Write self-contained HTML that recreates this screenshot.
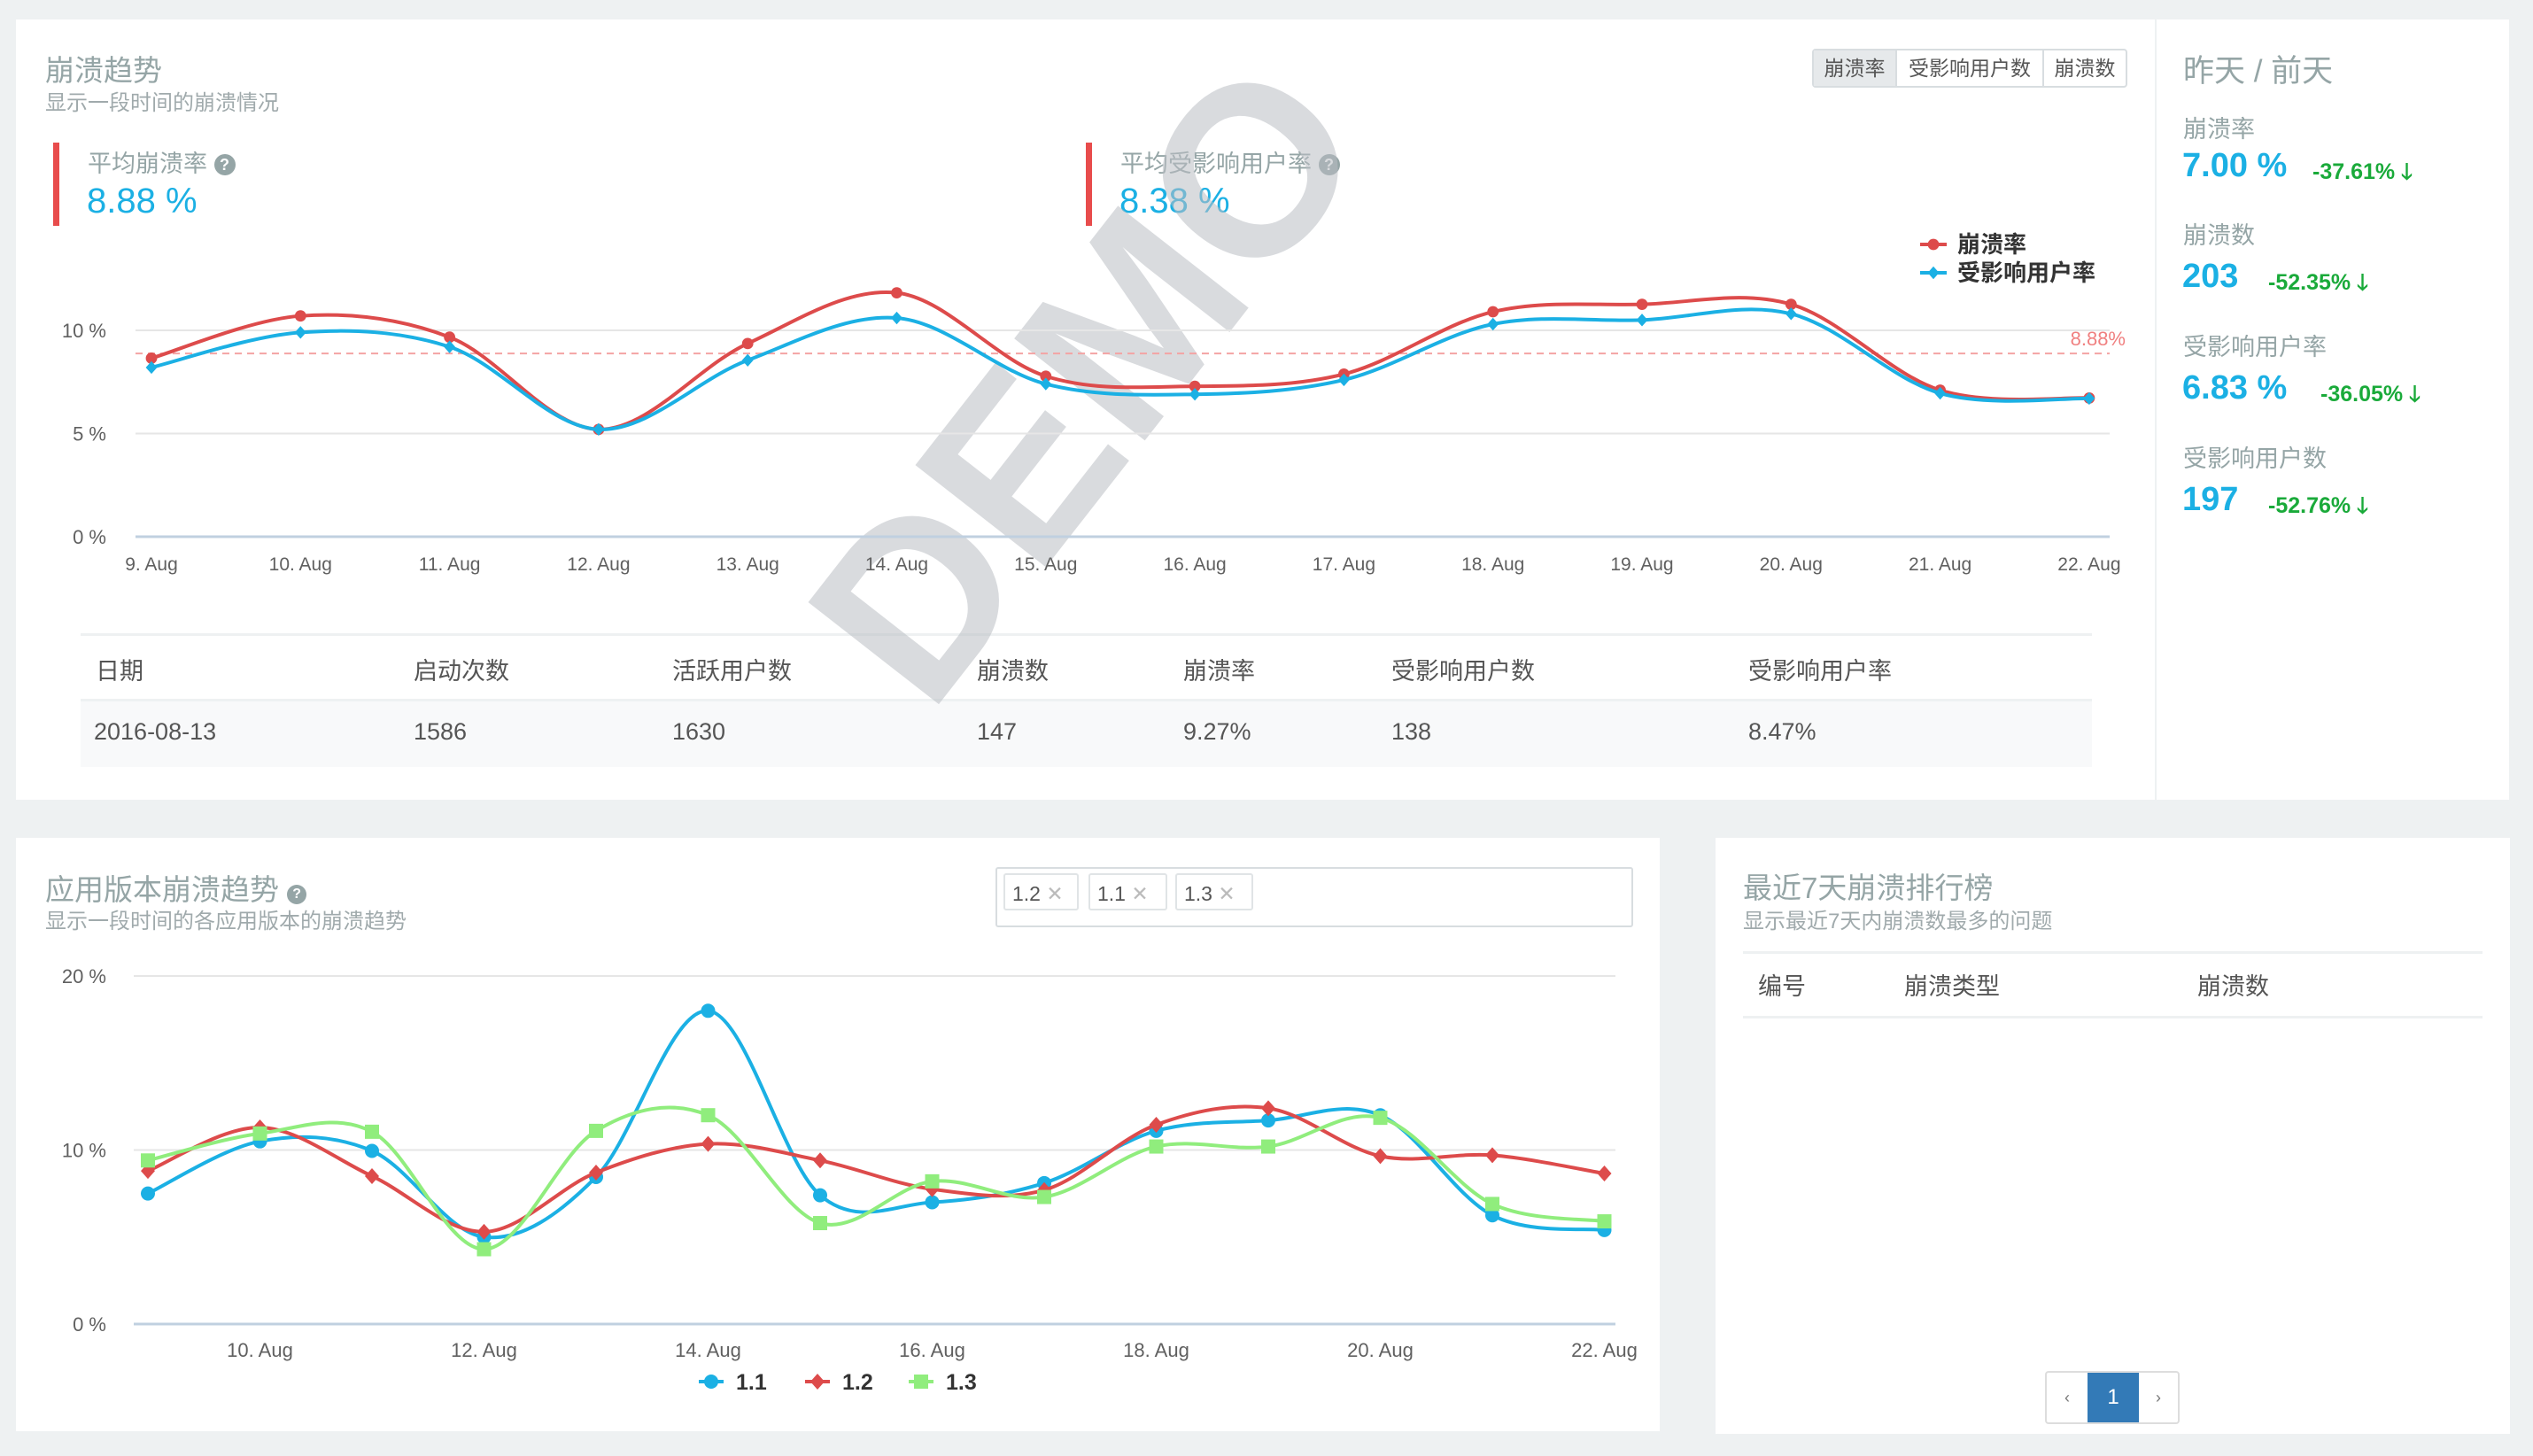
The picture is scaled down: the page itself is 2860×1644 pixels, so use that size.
<!DOCTYPE html>
<html><head><meta charset="utf-8">
<style>
html,body{margin:0;padding:0}
body{width:2860px;height:1644px;background:#eef1f2;position:relative;overflow:hidden;font-family:"Liberation Sans","Noto Sans CJK SC",sans-serif;}
.a{position:absolute;white-space:nowrap}
.panel{position:absolute;background:#fff}
.dg{color:#555}
.blue{color:#1bb0e4}
.green{color:#1aaa3a;font-weight:bold}
</style></head><body>
<div class="panel" style="left:18px;top:22px;width:2815px;height:881px"></div>
<div class="a" style="left:2433px;top:22px;width:2px;height:881px;background:#eef1f2"></div>
<div class="panel" style="left:18px;top:946px;width:1856px;height:670px"></div>
<div class="panel" style="left:1937px;top:946px;width:897px;height:673px"></div>

<div class="a" style="left:51px;top:53px;font-size:33px;color:#95a5a6">崩溃趋势</div>
<div class="a" style="left:51px;top:96px;font-size:24px;color:#a0aaac">显示一段时间的崩溃情况</div>
<div class="a" style="left:60px;top:161px;width:7px;height:94px;background:#e84c4c"></div>
<div class="a" style="left:99px;top:163px;font-size:27px;color:#95a5a6">平均崩溃率 <span style="display:inline-block;width:24px;height:24px;border-radius:12px;background:#95a5a6;color:#fff;font-size:18px;text-align:center;line-height:24px;font-weight:bold;vertical-align:2px">?</span></div>
<div class="a blue" style="left:98px;top:205px;font-size:40px">8.88 %</div>
<div class="a" style="left:1226px;top:161px;width:7px;height:94px;background:#e84c4c"></div>
<div class="a" style="left:1265px;top:163px;font-size:27px;color:#95a5a6">平均受影响用户率 <span style="display:inline-block;width:24px;height:24px;border-radius:12px;background:#95a5a6;color:#fff;font-size:18px;text-align:center;line-height:24px;font-weight:bold;vertical-align:2px">?</span></div>
<div class="a blue" style="left:1264px;top:205px;font-size:40px">8.38 %</div>

<div class="a" style="left:2046px;top:55px;height:40px;border:2px solid #d8dde0;border-radius:4px;display:flex;font-size:23px;color:#555;background:#fff">
<div style="width:92px;line-height:40px;text-align:center;background:#e6e9eb;border-right:2px solid #d8dde0">崩溃率</div>
<div style="width:164px;line-height:40px;text-align:center;border-right:2px solid #d8dde0">受影响用户数</div>
<div style="width:92px;line-height:40px;text-align:center">崩溃数</div>
</div>

<div class="a" style="left:91px;top:715px;width:2271px;height:3px;background:#eef1f2"></div>
<div class="a" style="left:91px;top:789px;width:2271px;height:74px;background:#f8f9fa;border-top:3px solid #eef1f2"></div>
<div>
<div class="a dg" style="left:108px;top:736px;font-size:27px">日期</div>
<div class="a dg" style="left:467px;top:736px;font-size:27px">启动次数</div>
<div class="a dg" style="left:759px;top:736px;font-size:27px">活跃用户数</div>
<div class="a dg" style="left:1103px;top:736px;font-size:27px">崩溃数</div>
<div class="a dg" style="left:1336px;top:736px;font-size:27px">崩溃率</div>
<div class="a dg" style="left:1571px;top:736px;font-size:27px">受影响用户数</div>
<div class="a dg" style="left:1974px;top:736px;font-size:27px">受影响用户率</div>
</div>
<div>
<div class="a dg" style="left:106px;top:811px;font-size:27px">2016-08-13</div>
<div class="a dg" style="left:467px;top:811px;font-size:27px">1586</div>
<div class="a dg" style="left:759px;top:811px;font-size:27px">1630</div>
<div class="a dg" style="left:1103px;top:811px;font-size:27px">147</div>
<div class="a dg" style="left:1336px;top:811px;font-size:27px">9.27%</div>
<div class="a dg" style="left:1571px;top:811px;font-size:27px">138</div>
<div class="a dg" style="left:1974px;top:811px;font-size:27px">8.47%</div>
</div>

<div class="a" style="left:2465px;top:52px;font-size:35px;color:#95a5a6">昨天 / 前天</div>
<div class="a" style="left:2465px;top:124px;font-size:27px;color:#95a5a6">崩溃率</div>
<div class="a blue" style="left:2464px;top:166px;font-size:38px;font-weight:bold">7.00 %</div>
<div class="a green" style="left:2611px;top:175px;font-size:25px">-37.61% 🡓</div>
<div class="a" style="left:2465px;top:244px;font-size:27px;color:#95a5a6">崩溃数</div>
<div class="a blue" style="left:2464px;top:291px;font-size:38px;font-weight:bold">203</div>
<div class="a green" style="left:2561px;top:300px;font-size:25px">-52.35% 🡓</div>
<div class="a" style="left:2465px;top:370px;font-size:27px;color:#95a5a6">受影响用户率</div>
<div class="a blue" style="left:2464px;top:417px;font-size:38px;font-weight:bold">6.83 %</div>
<div class="a green" style="left:2620px;top:426px;font-size:25px">-36.05% 🡓</div>
<div class="a" style="left:2465px;top:496px;font-size:27px;color:#95a5a6">受影响用户数</div>
<div class="a blue" style="left:2464px;top:543px;font-size:38px;font-weight:bold">197</div>
<div class="a green" style="left:2561px;top:552px;font-size:25px">-52.76% 🡓</div>

<div class="a" style="left:51px;top:978px;font-size:33px;color:#95a5a6">应用版本崩溃趋势 <span style="display:inline-block;width:22px;height:22px;border-radius:11px;background:#95a5a6;color:#fff;font-size:16px;text-align:center;line-height:22px;font-weight:bold;vertical-align:2px">?</span></div>
<div class="a" style="left:51px;top:1020px;font-size:24px;color:#a0aaac">显示一段时间的各应用版本的崩溃趋势</div>
<div class="a" style="left:1124px;top:979px;width:716px;height:64px;border:2px solid #d8dde0;border-radius:3px;background:#fff"></div>
<div class="a" style="left:1133px;top:986px;width:85px;height:42px;border:2px solid #e0e4e6;border-radius:3px;font-size:23px;line-height:42px;color:#555;padding-left:8px;box-sizing:border-box">1.2 <span style="color:#bbb">✕</span></div>
<div class="a" style="left:1229px;top:986px;width:89px;height:42px;border:2px solid #e0e4e6;border-radius:3px;font-size:23px;line-height:42px;color:#555;padding-left:8px;box-sizing:border-box">1.1 <span style="color:#bbb">✕</span></div>
<div class="a" style="left:1327px;top:986px;width:88px;height:42px;border:2px solid #e0e4e6;border-radius:3px;font-size:23px;line-height:42px;color:#555;padding-left:8px;box-sizing:border-box">1.3 <span style="color:#bbb">✕</span></div>

<div class="a" style="left:1968px;top:976px;font-size:33px;color:#95a5a6">最近7天崩溃排行榜</div>
<div class="a" style="left:1968px;top:1020px;font-size:24px;color:#a0aaac">显示最近7天内崩溃数最多的问题</div>
<div class="a" style="left:1968px;top:1074px;width:835px;height:3px;background:#eef1f2"></div>
<div class="a dg" style="left:1985px;top:1092px;font-size:27px">编号</div>
<div class="a dg" style="left:2150px;top:1092px;font-size:27px">崩溃类型</div>
<div class="a dg" style="left:2481px;top:1092px;font-size:27px">崩溃数</div>
<div class="a" style="left:1968px;top:1147px;width:835px;height:3px;background:#eef1f2"></div>
<div class="a" style="left:2309px;top:1548px;width:148px;height:56px;border:2px solid #ddd;border-radius:4px;display:flex;font-size:18px;color:#777">
<div style="width:46px;text-align:center;line-height:56px">‹</div>
<div style="width:58px;text-align:center;line-height:56px;background:#337ab7;color:#fff;font-size:24px">1</div>
<div style="width:44px;text-align:center;line-height:56px">›</div>
</div>

<svg id="chart" width="2860" height="1644" style="position:absolute;left:0;top:0" xmlns="http://www.w3.org/2000/svg"></svg>

<script>
const topDays = ["9. Aug","10. Aug","11. Aug","12. Aug","13. Aug","14. Aug","15. Aug","16. Aug","17. Aug","18. Aug","19. Aug","20. Aug","21. Aug","22. Aug"];
const topYTicks = [0,5,10];
const crashRate = [8.65,10.7,9.67,5.2,9.36,11.82,7.78,7.29,7.88,10.9,11.26,11.26,7.1,6.72];
const affectedRate = [8.2,9.9,9.2,5.2,8.55,10.6,7.4,6.9,7.6,10.3,10.5,10.8,6.95,6.7];
const avgCrash = 8.88;
const botTickDays = [1,3,5,7,9,11,13];
const botTickLabels = ["10. Aug","12. Aug","14. Aug","16. Aug","18. Aug","20. Aug","22. Aug"];
const botYTicks = [0,10,20];
const v11 = [7.5,10.5,9.95,5.0,8.45,18.0,7.4,7.0,8.1,11.1,11.7,12.0,6.25,5.4];
const v12 = [8.8,11.3,8.5,5.3,8.7,10.35,9.4,7.75,7.7,11.45,12.4,9.65,9.7,8.65];
const v13 = [9.4,10.95,11.05,4.3,11.1,12.0,5.8,8.2,7.3,10.2,10.2,11.85,6.9,5.9];

const svg=document.getElementById('chart');
const NS='http://www.w3.org/2000/svg';
function mk(tag,attrs,parent){const e=document.createElementNS(NS,tag);for(const k in attrs)e.setAttribute(k,attrs[k]);(parent||svg).appendChild(e);return e;}
function spline(pts){let d='M'+pts[0][0]+','+pts[0][1];for(let i=0;i<pts.length-1;i++){const p0=pts[Math.max(i-1,0)],p1=pts[i],p2=pts[i+1],p3=pts[Math.min(i+2,pts.length-1)];const t=1/6;d+=' C'+(p1[0]+(p2[0]-p0[0])*t)+','+(p1[1]+(p2[1]-p0[1])*t)+' '+(p2[0]-(p3[0]-p1[0])*t)+','+(p2[1]-(p3[1]-p1[1])*t)+' '+p2[0]+','+p2[1];}return d;}
function marker(g,type,x,y,c,s){s=s||1;let m;
 if(type==='circle')m=mk('circle',{cx:x,cy:y,r:8*s,fill:c},g);
 else if(type==='diamond')m=mk('path',{d:`M${x},${y-9*s}L${x+8*s},${y}L${x},${y+9*s}L${x-8*s},${y}Z`,fill:c},g);
 else m=mk('rect',{x:x-8,y:y-8,width:16,height:16,fill:c},g);
 
 }

const wm=mk('text',{x:0,y:0,'text-anchor':'middle','font-size':272,'font-weight':'bold',fill:'#b9bec3','fill-opacity':0.55,transform:'translate(1300,488) rotate(-52)','font-family':'Liberation Sans, sans-serif'});
wm.textContent='DEMO';



const tx=i=>171+i*168.3, ty=v=>606-v*23.3;
const topG=mk('g',{});


topYTicks.forEach(v=>{
 const l=mk('line',{x1:153,x2:2382,y1:ty(v),y2:ty(v),stroke:v===0?'#c0d0e0':'#e6e6e6','stroke-width':v===0?3:2},topG);
 
 
 const t=mk('text',{x:120,y:ty(v)+8,'text-anchor':'end','font-size':22,fill:'#606060'},topG);t.textContent=v+' %';
 
 
});
topDays.forEach((d,i)=>{const t=mk('text',{x:tx(i),y:644,'text-anchor':'middle','font-size':21,fill:'#606060'},topG);t.textContent=d;
 
 });
const avgL=mk('line',{x1:153,x2:2382,y1:ty(avgCrash),y2:ty(avgCrash),stroke:'#f4a4a4','stroke-width':2,'stroke-dasharray':'8,6'},topG);


const avgT=mk('text',{x:2400,y:ty(avgCrash)-9,'text-anchor':'end','font-size':22,fill:'#f08080'},topG);avgT.textContent=avgCrash+'%';


[[crashRate,'#dd4b4b','circle','crash-rate-series'],[affectedRate,'#1bb0e4','diamond','affected-rate-series']].forEach(([arr,c,m,n])=>{
 const g=mk('g',{},topG);
 
 
 const pts=arr.map((v,i)=>[tx(i),ty(v)]);
 mk('path',{d:spline(pts),fill:'none',stroke:c,'stroke-width':4},g);
 pts.forEach(p=>marker(g,m,p[0],p[1],c,0.8));
});
[['崩溃率','#dd4b4b','circle',276],['受影响用户率','#1bb0e4','diamond',308]].forEach(([n,c,m,y])=>{
 const g=mk('g',{},topG);
 
 
 mk('line',{x1:2168,x2:2198,y1:y,y2:y,stroke:c,'stroke-width':4},g);marker(g,m,2183,y,c,0.8);
 const t=mk('text',{x:2210,y:y+9,'font-size':26,'font-weight':'bold',fill:'#333'},g);t.textContent=n;
});

const bx=i=>167+i*126.5, by=v=>1495-v*19.65;
const botG=mk('g',{});


botYTicks.forEach(v=>{
 const l=mk('line',{x1:151,x2:1824,y1:by(v),y2:by(v),stroke:v===0?'#c0d0e0':'#e6e6e6','stroke-width':v===0?3:2},botG);
 
 
 const t=mk('text',{x:120,y:by(v)+8,'text-anchor':'end','font-size':22,fill:'#606060'},botG);t.textContent=v+' %';
 
 
});
botTickDays.forEach((d,i)=>{const t=mk('text',{x:bx(d),y:1532,'text-anchor':'middle','font-size':22,fill:'#606060'},botG);t.textContent=botTickLabels[i];
 
 });
[[v11,'#1bb0e4','circle','series-1-1'],[v12,'#dd4b4b','diamond','series-1-2'],[v13,'#90ed7d','square','series-1-3']].forEach(([arr,c,m,n])=>{
 const g=mk('g',{},botG);
 
 
 const pts=arr.map((v,i)=>[bx(i),by(v)]);
 mk('path',{d:spline(pts),fill:'none',stroke:c,'stroke-width':4},g);
 pts.forEach(p=>marker(g,m,p[0],p[1],c));
});
[['1.1','#1bb0e4','circle',803],['1.2','#dd4b4b','diamond',923],['1.3','#90ed7d','square',1040]].forEach(([n,c,m,x])=>{
 const g=mk('g',{},botG);
 
 
 mk('line',{x1:x-14,x2:x+14,y1:1560,y2:1560,stroke:c,'stroke-width':4},g);marker(g,m,x,1560,c);
 const t=mk('text',{x:x+28,y:1569,'font-size':25,'font-weight':'bold',fill:'#333'},g);t.textContent=n;
});
</script>
</body></html>
